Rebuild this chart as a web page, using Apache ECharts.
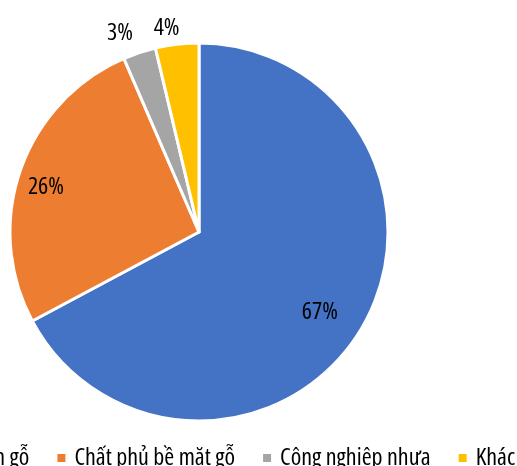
<!DOCTYPE html>
<html><head><meta charset="utf-8">
<script src="https://cdn.jsdelivr.net/npm/echarts@6/dist/echarts.min.js"></script>
<style>html,body{margin:0;padding:0;background:#fff}#c{width:517px;height:466px}</style>
</head><body><div id="c"></div>
<script>
var categories = ['Keo dán gỗ', 'Chất phủ bề mặt gỗ', 'Công nghiệp nhựa', 'Khác'];
var values = [67.2, 26.3, 2.8, 3.7];
var colors = ['#4472C4', '#ED7D31', '#A5A5A5', '#FFC000'];

// label placement: radial factor relative to the 'inside' position, plus a small nudge
var labelRadiusFactor = [1.505, 1.63, 2.18, 2.16];
var labelNudge = [[-5, 5], [-3, 8], [-12, 3], [-8, 5]];

// condensed rendering of Open Sans (installed variable font) for the canvas
(function () {
  var d = Object.getOwnPropertyDescriptor(CanvasRenderingContext2D.prototype, 'font');
  Object.defineProperty(CanvasRenderingContext2D.prototype, 'font', {
    configurable: true,
    get: d.get,
    set: function (v) {
      d.set.call(this, v);
      if ('fontStretch' in this) this.fontStretch = /Open Sans/.test(v) ? 'condensed' : 'normal';
    }
  });
})();

var CX = 199, CY = 232, R = 189;
var chart = echarts.init(document.getElementById('c'), null, {renderer: 'canvas'});
var FONT = '"Open Sans", sans-serif';
chart.setOption({
  animation: false,
  color: colors,
  legend: {
    data: categories,
    left: -86, top: 441, width: 1200,
    itemWidth: 10, itemHeight: 10, itemGap: 26,
    icon: 'rect',
    textStyle: {fontFamily: FONT, fontSize: 24, color: '#000', padding: [0, 0, 0, 3]}
  },
  series: [{
    type: 'pie',
    center: [CX, CY],
    radius: [0, R],
    startAngle: 90,
    clockwise: true,
    percentPrecision: 0,
    itemStyle: {borderColor: '#fff', borderWidth: 3},
    label: {show: true, position: 'inside', formatter: '{d}%', fontFamily: FONT, fontSize: 24, color: '#000'},
    labelLine: {show: false},
    labelLayout: function (p) {
      var i = p.dataIndex, f = labelRadiusFactor[i];
      var lx = p.labelRect.x + p.labelRect.width / 2;
      var ly = p.labelRect.y + p.labelRect.height / 2;
      return {
        x: CX + (lx - CX) * f + labelNudge[i][0],
        y: CY + (ly - CY) * f + labelNudge[i][1],
        align: 'center', verticalAlign: 'middle'
      };
    },
    data: categories.map(function (c, i) { return {name: c, value: values[i]}; })
  }]
});
</script></body></html>
